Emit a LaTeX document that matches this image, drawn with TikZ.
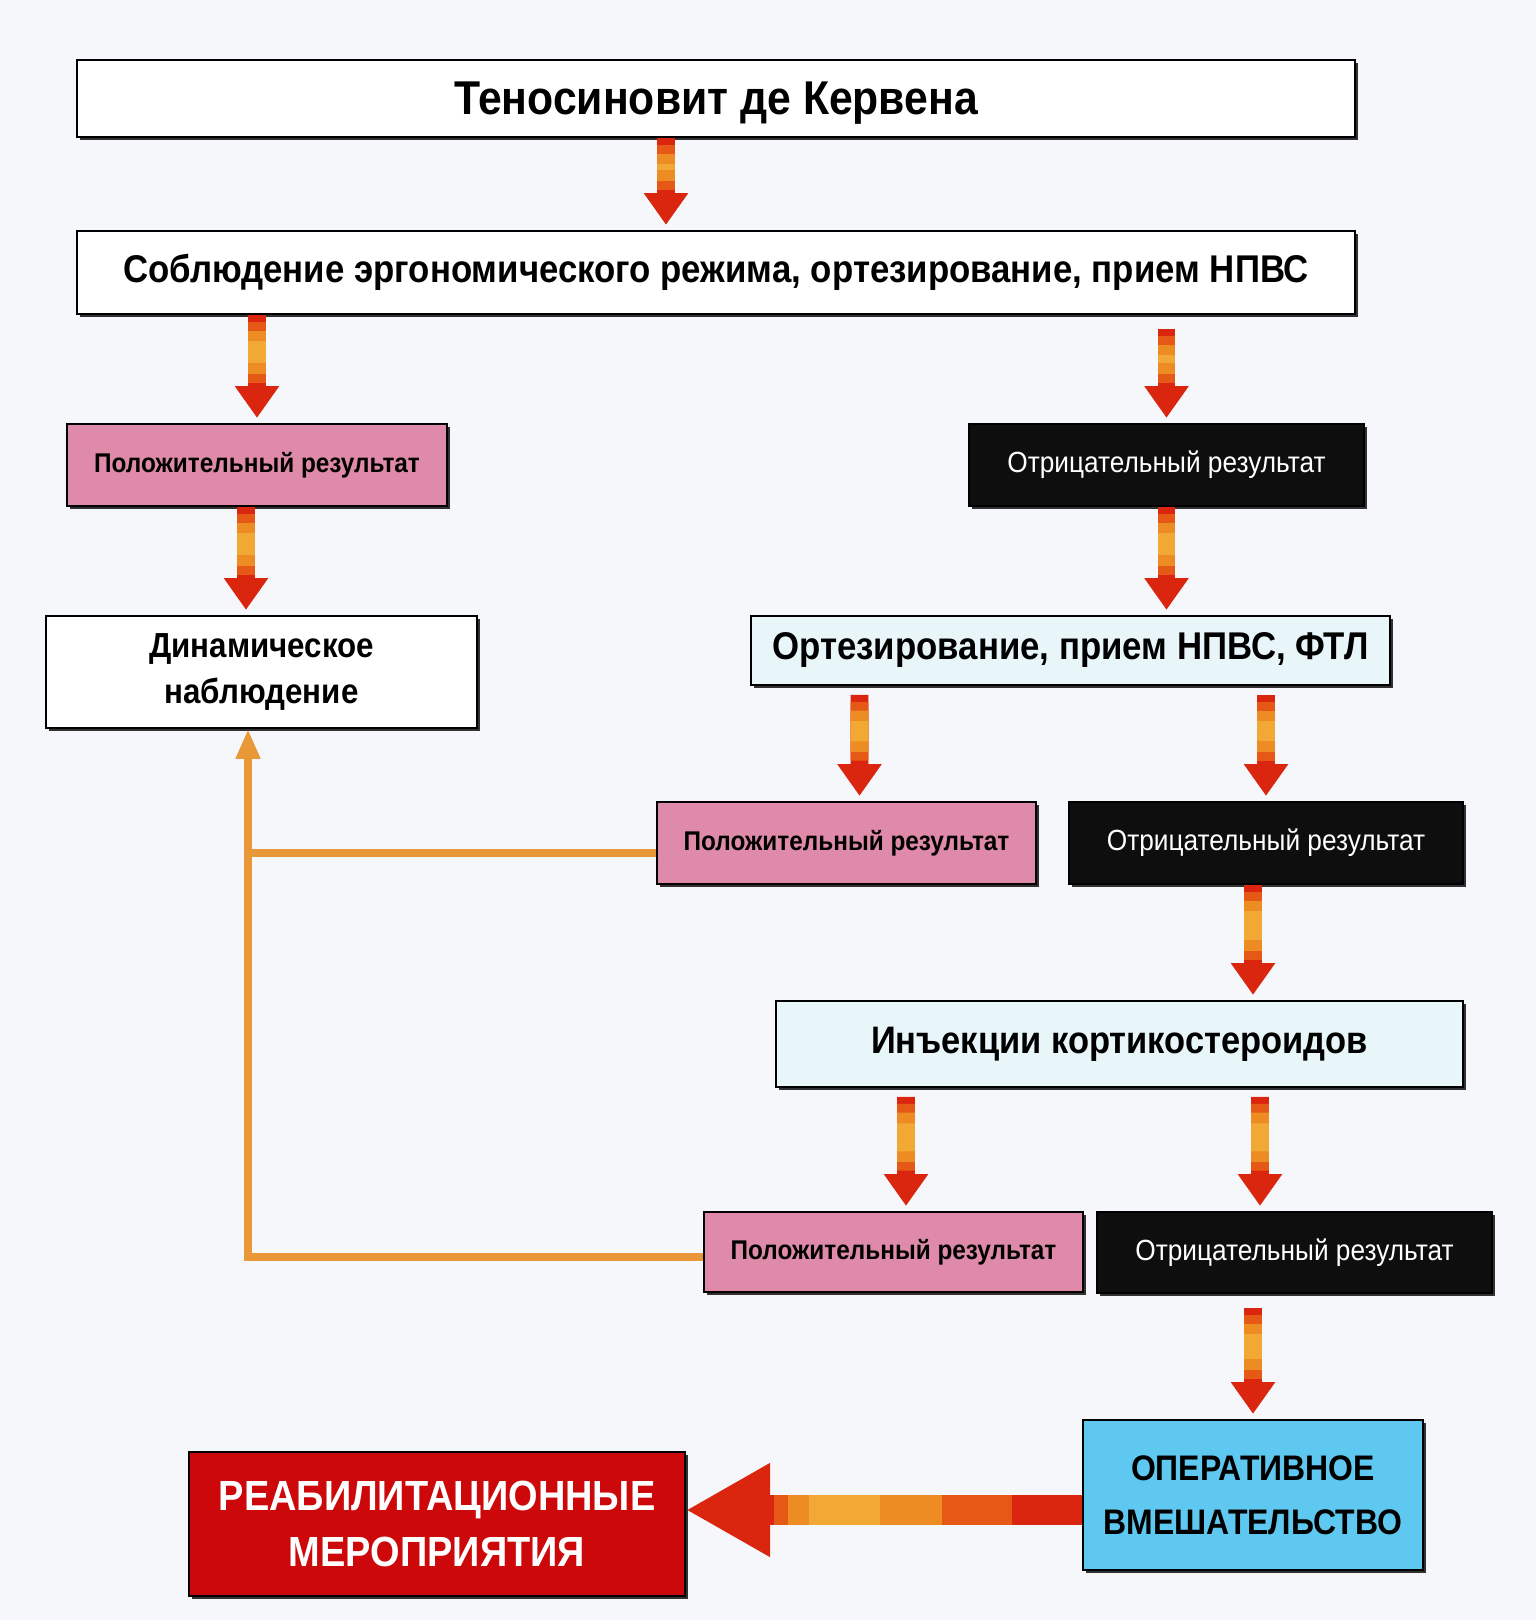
\documentclass[tikz,border=0pt]{standalone}
\usepackage{fontspec}
\setmainfont{Liberation Sans}[FakeStretch=0.9]
\usetikzlibrary{arrows.meta,positioning,calc,shadows}
\definecolor{TdkPaper}{RGB}{246,247,251}
\definecolor{TdkPink}{RGB}{222,138,168}
\definecolor{TdkIce}{RGB}{232,246,250}
\definecolor{TdkSky}{RGB}{95,200,240}
\definecolor{TdkRed}{RGB}{205,8,10}
\definecolor{TdkArrow}{RGB}{218,38,14}
\definecolor{TdkMid}{RGB}{230,88,22}
\definecolor{TdkOrange}{RGB}{238,140,36}
\definecolor{TdkLight}{RGB}{242,168,52}
\definecolor{TdkLine}{RGB}{232,152,55}
\definecolor{TdkBlack}{RGB}{14,14,14}

\begin{document}
\begin{tikzpicture}[x=0.2mm,y=-0.2mm,
  box/.style={draw=black,line width=1pt,align=center,inner sep=0pt,
              drop shadow={shadow xshift=1.6pt,shadow yshift=-1.6pt,fill=black,opacity=0.8}},
  posbox/.style={box,fill=TdkPink,font=\fontsize{15.4}{17}\selectfont\bfseries,
              minimum width=76mm,minimum height=16.4mm},
  negbox/.style={box,fill=TdkBlack,text=white,font=\fontsize{16.6}{19}\selectfont,
              minimum width=79mm,minimum height=16.4mm},
  fat/.style={line width=10pt,draw=TdkArrow,-{Triangle[width=24pt,length=18pt]},
              shorten >=3pt,
              postaction={draw=TdkMid,-,shorten <=4pt,shorten >=23pt},
              postaction={draw=TdkOrange,-,shorten <=9pt,shorten >=28pt},
              postaction={draw=TdkLight,-,shorten <=15pt,shorten >=34pt}},
  bigfat/.style={line width=17pt,draw=TdkArrow,-{Triangle[width=50pt,length=48pt]},
              postaction={draw=TdkMid,-,shorten <=40pt,shorten >=50pt},
              postaction={draw=TdkOrange,-,shorten <=80pt,shorten >=58pt},
              postaction={draw=TdkLight,-,shorten <=115pt,shorten >=70pt}},
  fb/.style={draw=TdkLine,line width=4.5pt}
]
\fill[TdkPaper] (0,0) rectangle (1536,1620);

% boxes
\node[box,fill=white,minimum width=255.6mm,minimum height=15.4mm,text depth=0pt,
      font=\fontsize{27}{30}\selectfont\bfseries] (title) at (716,98.5) {Теносиновит де Кервена};
\node[box,fill=white,minimum width=255.6mm,minimum height=16.6mm,
      font=\fontsize{22}{25}\selectfont\bfseries] (plan) at (716,272.5)
      {Соблюдение эргономического режима, ортезирование, прием НПВС};
\node[posbox] (pos1) at (257,465) {Положительный результат};
\node[negbox] (neg1) at (1166.5,465) {Отрицательный результат};
\node[box,fill=white,minimum width=86.2mm,minimum height=22.4mm,
      font=\fontsize{19.8}{26}\selectfont\bfseries] (dyn) at (261.5,672) {Динамическое\\наблюдение};
\node[box,fill=TdkIce,minimum width=127.8mm,minimum height=13.8mm,
      font=\fontsize{22}{25}\selectfont\bfseries] (ort) at (1070.5,650.5) {Ортезирование, прием НПВС, ФТЛ};
\node[posbox,minimum width=75.8mm] (pos2) at (846.5,843) {Положительный результат};
\node[negbox,minimum width=78.8mm] (neg2) at (1266,843) {Отрицательный результат};
\node[box,fill=TdkIce,minimum width=137.4mm,minimum height=17.2mm,
      font=\fontsize{21.8}{25}\selectfont\bfseries] (inj) at (1119.5,1044) {Инъекции кортикостероидов};
\node[posbox,minimum width=75.8mm,minimum height=16mm] (pos3) at (893.5,1252) {Положительный результат};
\node[negbox,minimum height=16.2mm] (neg3) at (1294.5,1252.5) {Отрицательный результат};
\node[box,fill=TdkSky,minimum width=68mm,minimum height=30mm,
      font=\fontsize{20.2}{30.5}\selectfont\bfseries] (oper) at (1253,1495) {ОПЕРАТИВНОЕ\\ВМЕШАТЕЛЬСТВО};
\node[box,fill=TdkRed,text=white,minimum width=99.2mm,minimum height=28.8mm,
      font=\fontsize{24}{31.5}\selectfont\bfseries] (reab) at (437,1524) {РЕАБИЛИТАЦИОННЫЕ\\МЕРОПРИЯТИЯ};

% red arrows
\draw[fat] ([xshift=-10mm]title.south) -- ([xshift=-10mm]title.south |- plan.north);
\draw[fat] (pos1.north |- plan.south) -- (pos1.north);
\draw[fat] ($(neg1.north |- plan.south)+(0,14)$) -- (neg1.north);
\draw[fat] ([xshift=-2.2mm]pos1.south) -- ([xshift=-2.2mm]pos1.south |- dyn.north);
\draw[fat] (neg1.south) -- (neg1.south |- ort.north);
\draw[fat] ($(ort.south -| pos2.north)+(13,9)$) -- ([xshift=2.6mm]pos2.north);
\draw[fat] ($(ort.south -| neg2.north)+(0,9)$) -- (neg2.north);
\draw[fat] ([xshift=-2.6mm]neg2.south) -- ([xshift=-2.6mm]neg2.south |- inj.north);
\draw[fat] ($(inj.south -| pos3.north)+(12.5,9)$) -- ([xshift=2.5mm]pos3.north);
\draw[fat] ($(inj.south -| neg3.north)+(-34.5,9)$) -- ([xshift=-6.9mm]neg3.north);
\draw[fat] ($(neg3.south -| oper.north)+(0,14)$) -- (oper.north);
\coordinate (ry) at (0,1510);
\draw[bigfat] (oper.west |- ry) -- (reab.east |- ry);

% feedback lines
\coordinate (fb) at ([xshift=-2.7mm]dyn.south);
\draw[fb,-{Triangle[width=13pt,length=17pt]}] ([yshift=-1mm]pos3.west) -| (fb);
\draw[fb] ([yshift=-2mm]pos2.west) -- ([yshift=-2mm]pos2.west -| fb);
\end{tikzpicture}
\end{document}
